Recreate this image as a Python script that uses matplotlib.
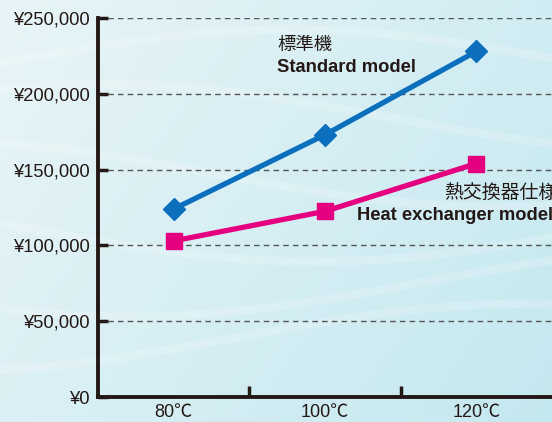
import numpy as np
import matplotlib.pyplot as plt

plt.rcParams['font.family'] = ['Liberation Sans', 'Noto Sans CJK JP', 'DejaVu Sans']

temps = ["80℃", "100℃", "120℃"]
standard = [124000, 173000, 228000]
heat_exchanger = [103000, 122500, 154000]
yticks = [0, 50000, 100000, 150000, 200000, 250000]
ylabels = ["¥0", "¥50,000", "¥100,000", "¥150,000", "¥200,000", "¥250,000"]

fig = plt.figure(figsize=(5.52, 4.22), dpi=100)

# background gradient
bg = fig.add_axes([0, 0, 1, 1], zorder=0)
gx = np.linspace(0, 1, 200)
gy = np.linspace(0, 1, 200)
X, Y = np.meshgrid(gx, gy)
c1 = np.array([0.91, 0.96, 0.97])
c2 = np.array([0.77, 0.91, 0.94])
t = np.clip(0.65 * X + 0.35 * Y, 0, 1)[..., None]
img = c1 * (1 - t) + c2 * t
bg.imshow(img, extent=[0, 1, 0, 1], aspect='auto', origin='upper')
for k in range(6):
    xs = np.linspace(0, 1, 100)
    bg.plot(xs, 0.85 - 0.13 * k + 0.08 * np.sin(xs * 3 + k), color='white', lw=6, alpha=0.2)
bg.set_xlim(0, 1)
bg.set_ylim(0, 1)
bg.axis('off')

ax = fig.add_axes([0.1775, 0.0592, 0.8225, 0.8981], zorder=1)
ax.set_facecolor('none')
x = np.arange(len(temps))

ax.plot(x, standard, color='#0b6fbe', lw=3.8, marker='D', markersize=11, zorder=3)
ax.plot(x, heat_exchanger, color='#e4007f', lw=3.8, marker='s', markersize=11, zorder=3)

ax.set_xlim(-0.5, 2.5)
ax.set_ylim(0, 250000)
ax.set_yticks(yticks)
ax.set_yticklabels(ylabels, fontsize=13.2, color='#231815')
ax.set_xticks(x)
ax.set_xticklabels(temps, fontsize=13, color='#231815')
ax.tick_params(axis='x', length=0, pad=5)
ax.set_xticks([0.5, 1.5], minor=True)
ax.tick_params(axis='x', which='minor', direction='in', length=8, width=2.5, color='#231815')
ax.tick_params(axis='y', direction='in', length=7, width=2.5, color='#231815', pad=6)
ax.grid(axis='y', linestyle=(0, (4, 3)), color='#555555', lw=1)

for side in ['top', 'right']:
    ax.spines[side].set_visible(False)
for side in ['left', 'bottom']:
    ax.spines[side].set_linewidth(2.8)
    ax.spines[side].set_color('#231815')

ax.text(0.683, 232000, "標準機", fontsize=13.2, color='#231815', va='center', ha='left')
ax.text(0.683, 217500, "Standard model", fontsize=13.2, fontweight='bold', color='#231815', va='center', ha='left')
ax.text(1.787, 134500, "熱交換器仕様", fontsize=13.6, color='#231815', va='center', ha='left', clip_on=False)
ax.text(1.212, 120000, "Heat exchanger model", fontsize=13.2, fontweight='bold', color='#231815', va='center', ha='left', clip_on=False)

fig.savefig("out.png", dpi=100)
